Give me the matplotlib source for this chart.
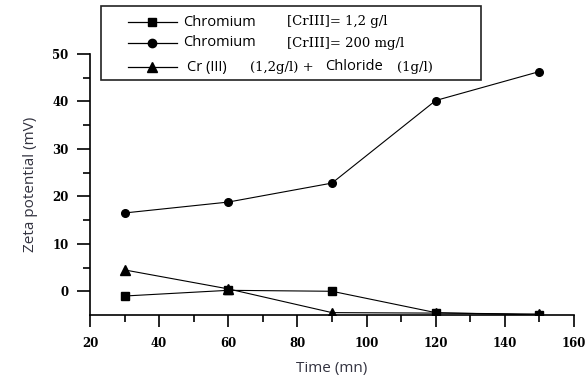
import matplotlib
matplotlib.use("Agg")
import matplotlib.pyplot as plt
from matplotlib.lines import Line2D
from matplotlib.patches import Rectangle

# data
time_mn = [30, 60, 90, 120, 150]
cr_1_2 = [-1.0, 0.2, 0.0, -4.5, -5.0]
cr_200 = [16.5, 18.8, 22.8, 40.2, 46.3]
cr_chloride = [4.5, 0.5, -4.5, -4.6, -4.8]

x_ticks = [20, 40, 60, 80, 100, 120, 140, 160]
y_ticks = [0, 10, 20, 30, 40, 50]

W, H = 587, 383
fig = plt.figure(figsize=(W / 100, H / 100), dpi=100)
ax = fig.add_axes([90 / W, 1 - 315 / H, (574 - 90) / W, (315 - 54) / H])

ax.plot(time_mn, cr_1_2, color="black", lw=0.8, marker="s", ms=6)
ax.plot(time_mn, cr_200, color="black", lw=0.8, marker="o", ms=5.5)
ax.plot(time_mn, cr_chloride, color="black", lw=0.8, marker="^", ms=7)

ax.set_xlim(20, 160)
ax.set_ylim(-5, 50)
ax.set_xticks(x_ticks)
ax.set_yticks(y_ticks)
ax.set_xticks(range(30, 160, 20), minor=True)
ax.set_yticks(range(5, 50, 10), minor=True)
for s in ("top", "right"):
    ax.spines[s].set_visible(False)
ax.spines["left"].set_linewidth(1.2)
ax.spines["bottom"].set_linewidth(1.2)
ax.tick_params(axis="x", which="major", direction="out", length=8.5, width=1.2, pad=7)
ax.tick_params(axis="y", which="major", direction="out", length=9.5, width=1.2, pad=6)
ax.tick_params(which="minor", direction="out", length=5, width=1.2)
for lab in ax.get_xticklabels() + ax.get_yticklabels():
    lab.set_fontfamily("DejaVu Serif")
    lab.set_fontweight("bold")
    lab.set_fontsize(8.5)

lab_col = "#333340"
ax.set_xlabel("Time (mn)", fontsize=11, family="Open Sans", color=lab_col, labelpad=8)
ax.set_ylabel("Zeta potential (mV)", fontsize=11, family="Open Sans", color=lab_col, labelpad=10)

# legend box drawn by hand so the mixed fonts can be kept
fig.patches.append(Rectangle((101 / W, 1 - 80 / H), (481 - 101) / W, 74 / H,
                             transform=fig.transFigure, fill=False, ec="#222222", lw=1.2))
rows = [
    ("s", 6, [("Chromium", 183, "Open Sans"), ("[CrIII]= 1,2 g/l", 287, "DejaVu Serif")]),
    ("o", 6, [("Chromium", 183, "Open Sans"), ("[CrIII]= 200 mg/l", 287, "DejaVu Serif")]),
    ("^", 7, [("Cr (III)", 187, "Open Sans"), ("(1,2g/l) +", 250, "DejaVu Serif"),
              ("Chloride", 325, "Open Sans"), ("(1g/l)", 397, "DejaVu Serif")]),
]
row_y = [22, 43, 67]
for (mk, ms, parts), py in zip(rows, row_y):
    yy = 1 - py / H
    fig.lines.append(Line2D([128 / W, 177 / W], [yy, yy], transform=fig.transFigure,
                            color="black", lw=0.9))
    fig.lines.append(Line2D([152 / W], [yy], transform=fig.transFigure,
                            color="black", marker=mk, ms=ms))
    for txt, px, fam in parts:
        fs = 10.5 if fam == "Open Sans" else 9.5
        fig.text(px / W, yy, txt, family=fam, fontsize=fs, va="center", ha="left")

fig.savefig("out.png", dpi=100)
